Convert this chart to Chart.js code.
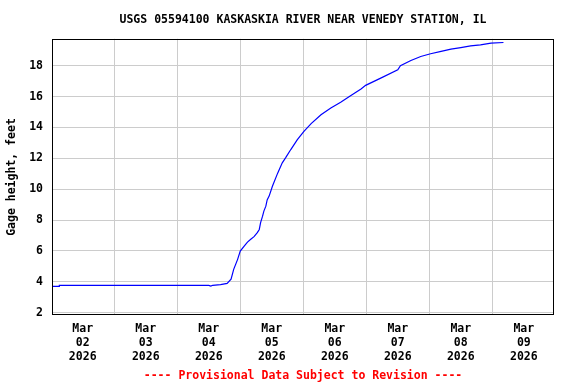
<!DOCTYPE html>
<html>
<head>
<meta charset="utf-8">
<script src="https://cdn.jsdelivr.net/npm/chart.js@4.4.1/dist/chart.umd.min.js"></script>
<style>
  body { margin: 0; background: #ffffff; }
  canvas { display: block; }
</style>
</head>
<body>
<canvas id="myChart" width="576" height="384"></canvas>
<script>
// hours after Mar 02 2026 00:00, and gage height in feet
let hours = [-11.5, -9, -8.9, 48, 48.8, 49.5, 52.5, 55, 56.5, 57.5, 59, 60, 61.5, 62.75, 64, 65.25,
  66.5, 67.25, 67.75, 68.5, 69, 69.75, 70.25, 71, 72.25, 74.25, 76, 77.25, 79.25, 81.75, 84.25,
  87, 90.75, 94.5, 98.25, 102, 106, 107.75, 113.5, 120, 121, 125, 128.75, 132.5, 136.5, 140.25,
  144, 147.75, 151.5, 155.5, 160.25];
let stage = [3.70, 3.70, 3.76, 3.76, 3.72, 3.77, 3.81, 3.89, 4.16, 4.8, 5.45, 5.99, 6.31, 6.57, 6.75, 6.92,
  7.18, 7.39, 7.83, 8.25, 8.58, 8.9, 9.3, 9.55, 10.19, 11.04, 11.71, 12.03, 12.57, 13.21, 13.75,
  14.25, 14.83, 15.26, 15.63, 16.05, 16.5, 16.73, 17.2, 17.74, 18.0, 18.34, 18.6, 18.78, 18.93, 19.08,
  19.18, 19.29, 19.36, 19.47, 19.51];

let tickDays = ['02', '03', '04', '05', '06', '07', '08', '09'];
let tickMonth = 'Mar';
let tickYear = '2026';
let yTicks = [2, 4, 6, 8, 10, 12, 14, 16, 18];

let points = [];
for (let i = 0; i < hours.length; i++) {
  points.push({x: hours[i], y: stage[i]});
}

let fontMono = {family: "'DejaVu Sans Mono', monospace", size: 11.5, weight: 'bold'};
let gridGray = '#cccccc';

// black frame round the plot area
let frame = {
  id: 'frame',
  afterDatasetsDraw(chart) {
    let a = chart.chartArea;
    let c = chart.ctx;
    c.save();
    c.strokeStyle = '#000000';
    c.lineWidth = 1;
    c.strokeRect(Math.round(a.left) + 0.5, Math.round(a.top) + 0.5,
      Math.round(a.right - a.left) - 1, Math.round(a.bottom - a.top) - 1);
    c.restore();
  }
};

new Chart("myChart", {
  type: "line",
  data: {
    datasets: [{
      data: points,
      borderColor: '#0000ff',
      borderWidth: 1.2,
      pointRadius: 0,
      tension: 0,
      fill: false
    }]
  },
  plugins: [frame],
  options: {
    responsive: false,
    devicePixelRatio: 1,
    animation: false,
    layout: {padding: {left: 0, right: 22, top: 0, bottom: 0}},
    plugins: {
      legend: {display: false},
      tooltip: {enabled: false},
      title: {
        display: true,
        fullSize: false,
        text: 'USGS 05594100 KASKASKIA RIVER NEAR VENEDY STATION, IL',
        color: '#000000',
        font: fontMono,
        padding: {top: 13, bottom: 12}
      },
      subtitle: {
        display: true,
        fullSize: false,
        position: 'bottom',
        text: '---- Provisional Data Subject to Revision ----',
        color: '#ff0000',
        font: fontMono,
        padding: {top: 0, bottom: 1}
      }
    },
    scales: {
      x: {
        type: 'linear',
        min: -11.7,
        max: 179.5,
        afterBuildTicks: function(axis) {
          let t = [];
          for (let h = 0; h <= 168; h += 12) t.push({value: h});
          axis.ticks = t;
        },
        afterFit: function(axis) { axis.height = 54; },
        border: {display: false},
        grid: {
          drawTicks: false,
          color: function(ctx) {
            return (ctx.tick && ctx.tick.value % 24 === 12) ? gridGray : 'rgba(0,0,0,0)';
          }
        },
        ticks: {
          autoSkip: false,
          maxRotation: 0,
          padding: 7,
          color: '#000000',
          font: fontMono,
          callback: function(v) {
            if (v % 24 !== 0) return '';
            return [tickMonth, tickDays[v / 24], tickYear];
          }
        }
      },
      y: {
        min: 1.83,
        max: 19.75,
        afterBuildTicks: function(axis) {
          axis.ticks = yTicks.map(v => ({value: v}));
        },
        afterFit: function(axis) { axis.width = 52; },
        border: {display: false},
        grid: {drawTicks: false, color: gridGray},
        ticks: {
          padding: 9,
          color: '#000000',
          font: fontMono
        },
        title: {
          display: true,
          text: 'Gage height, feet',
          color: '#000000',
          font: fontMono,
          padding: {top: 5, bottom: 0}
        }
      }
    }
  }
});
</script>
</body>
</html>
